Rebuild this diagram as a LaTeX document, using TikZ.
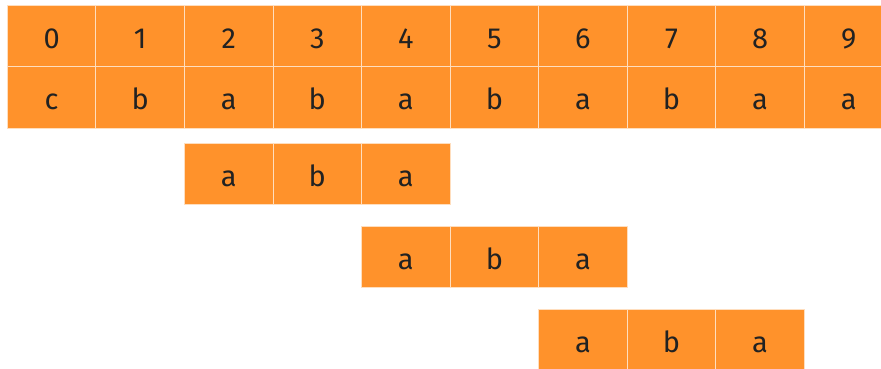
\documentclass[tikz,border=0pt]{standalone}
\usepackage{fontspec}
\setmainfont{Fira Sans}
\usepackage{tikz}
\usetikzlibrary{positioning}
\definecolor{cellfill}{RGB}{255,146,43}
\definecolor{cellline}{RGB}{255,222,190}
\definecolor{inktext}{RGB}{34,34,34}

\begin{document}
\begin{tikzpicture}[
  x=1pt, y=-1pt,
  font=\fontsize{29}{32}\selectfont,
  cell/.style={rectangle, draw=cellline, line width=1pt, fill=cellfill, text=inktext,
               inner sep=0pt, outer sep=0pt, text height=24.6pt, text depth=0pt,
               minimum width=88.56pt, minimum height=61.4pt}
]
\useasboundingbox (0,0) rectangle (881,369);

% index row
\node[cell] (idx0) at (51.6,36) {0};
\foreach \i [remember=\i as \j (initially 0)] in {1,...,9}
  \node[cell, right=0pt of idx\j] (idx\i) {\i};

% text row
\foreach \c [count=\i from 0] in {c,b,a,b,a,b,a,b,a,a}
  \node[cell, below=0pt of idx\i] (txt\i) {\c};

% pattern at shift 2
\node[cell, below=15pt of txt2] (pa1) {a};
\node[cell, right=0pt of pa1] (pb1) {b};
\node[cell, right=0pt of pb1] (pc1) {a};

% pattern at shift 4
\node[cell, below=22pt of pc1] (pa2) {a};
\node[cell, right=0pt of pa2] (pb2) {b};
\node[cell, right=0pt of pb2] (pc2) {a};

% pattern at shift 6
\node[cell, below=22pt of pc2] (pa3) {a};
\node[cell, right=0pt of pa3] (pb3) {b};
\node[cell, right=0pt of pb3] (pc3) {a};

\end{tikzpicture}
\end{document}
